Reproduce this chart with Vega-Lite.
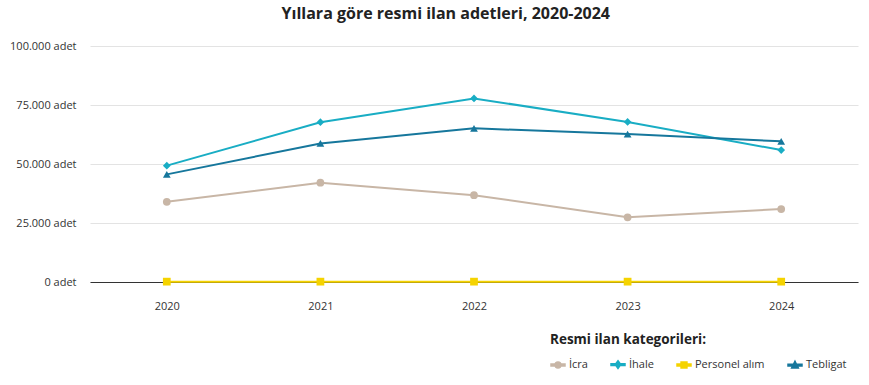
{
  "$schema": "https://vega.github.io/schema/vega-lite/v6.json",
  "width": 768,
  "height": 236,
  "autosize": {"type": "none"},
  "padding": {"left": 90, "top": 46, "right": 11, "bottom": 103},
  "background": "white",
  "config": {
    "font": "Open Sans",
    "view": {"stroke": null}
  },
  "title": {
    "text": "Yıllara göre resmi ilan adetleri, 2020-2024",
    "fontSize": 16,
    "fontWeight": "bold",
    "color": "#222222",
    "anchor": "middle",
    "frame": "bounds",
    "offset": 18,
    "dx": 12
  },
  "data": {
    "values": [
      {"yil": "2020", "kategori": "İcra", "adet": 34000},
      {"yil": "2021", "kategori": "İcra", "adet": 42100},
      {"yil": "2022", "kategori": "İcra", "adet": 36800},
      {"yil": "2023", "kategori": "İcra", "adet": 27400},
      {"yil": "2024", "kategori": "İcra", "adet": 30900},
      {"yil": "2020", "kategori": "İhale", "adet": 49300},
      {"yil": "2021", "kategori": "İhale", "adet": 67700},
      {"yil": "2022", "kategori": "İhale", "adet": 77800},
      {"yil": "2023", "kategori": "İhale", "adet": 67800},
      {"yil": "2024", "kategori": "İhale", "adet": 55900},
      {"yil": "2020", "kategori": "Personel alım", "adet": 150},
      {"yil": "2021", "kategori": "Personel alım", "adet": 150},
      {"yil": "2022", "kategori": "Personel alım", "adet": 150},
      {"yil": "2023", "kategori": "Personel alım", "adet": 150},
      {"yil": "2024", "kategori": "Personel alım", "adet": 150},
      {"yil": "2020", "kategori": "Tebligat", "adet": 45600},
      {"yil": "2021", "kategori": "Tebligat", "adet": 58700},
      {"yil": "2022", "kategori": "Tebligat", "adet": 65100},
      {"yil": "2023", "kategori": "Tebligat", "adet": 62700},
      {"yil": "2024", "kategori": "Tebligat", "adet": 59600}
    ]
  },
  "encoding": {
    "x": {
      "field": "yil",
      "type": "ordinal",
      "scale": {"type": "point", "padding": 0.5},
      "axis": {
        "title": null,
        "labelAngle": 0,
        "labelFontSize": 11,
        "labelColor": "#333333",
        "labelPadding": 18,
        "ticks": false,
        "domain": true,
        "domainColor": "#333333",
        "domainWidth": 1,
        "grid": false
      }
    },
    "y": {
      "field": "adet",
      "type": "quantitative",
      "scale": {"domain": [0, 100000]},
      "axis": {
        "title": null,
        "values": [0, 25000, 50000, 75000, 100000],
        "labelExpr": "replace(format(datum.value, ',d'), ',', '.') + ' adet'",
        "labelFontSize": 11,
        "labelColor": "#333333",
        "labelPadding": 14,
        "ticks": false,
        "domain": false,
        "grid": true,
        "gridColor": "#e3e3e3",
        "gridWidth": 1
      }
    },
    "color": {
      "field": "kategori",
      "type": "nominal",
      "scale": {
        "domain": ["İcra", "İhale", "Personel alım", "Tebligat"],
        "range": ["#c8b6a6", "#19adc4", "#f5d300", "#16779c"]
      },
      "legend": {
        "title": "Resmi ilan kategorileri:",
        "orient": "none",
        "legendX": 460,
        "legendY": 287,
        "direction": "horizontal",
        "titleFontSize": 13.5,
        "titleFontWeight": "bold",
        "titleColor": "#222222",
        "titlePadding": 10,
        "labelFontSize": 11,
        "labelColor": "#333333",
        "labelOffset": 3,
        "symbolSize": 196,
        "columnPadding": 20,
        "symbolType": {
          "expr": "datum.value === 'İcra' ? 'M-1,-0.13H1V0.13H-1Z M0.42,0A0.42,0.42,0,1,1,-0.42,0A0.42,0.42,0,1,1,0.42,0Z' : datum.value === 'İhale' ? 'M-1,-0.13H1V0.13H-1Z M0,-0.55L0.4,0L0,0.55L-0.4,0Z' : datum.value === 'Personel alım' ? 'M-1,-0.13H1V0.13H-1Z M-0.42,-0.42H0.42V0.42H-0.42Z' : 'M-1,-0.13H1V0.13H-1Z M0,-0.55L0.48,0.4H-0.48Z'"
        }
      }
    }
  },
  "layer": [
    {
      "mark": {"type": "line", "strokeWidth": 2},
      "encoding": {"detail": {"field": "kategori"}}
    },
    {
      "transform": [{"filter": "datum.kategori === 'İcra'"}],
      "mark": {"type": "point", "filled": true, "opacity": 1, "size": 60, "shape": "circle"}
    },
    {
      "transform": [{"filter": "datum.kategori === 'İhale'"}],
      "mark": {"type": "point", "filled": true, "opacity": 1, "size": 60, "shape": "diamond"}
    },
    {
      "transform": [{"filter": "datum.kategori === 'Personel alım'"}],
      "mark": {"type": "point", "filled": true, "opacity": 1, "size": 60, "shape": "square"}
    },
    {
      "transform": [{"filter": "datum.kategori === 'Tebligat'"}],
      "mark": {"type": "point", "filled": true, "opacity": 1, "size": 60, "shape": "triangle-up"}
    }
  ]
}
